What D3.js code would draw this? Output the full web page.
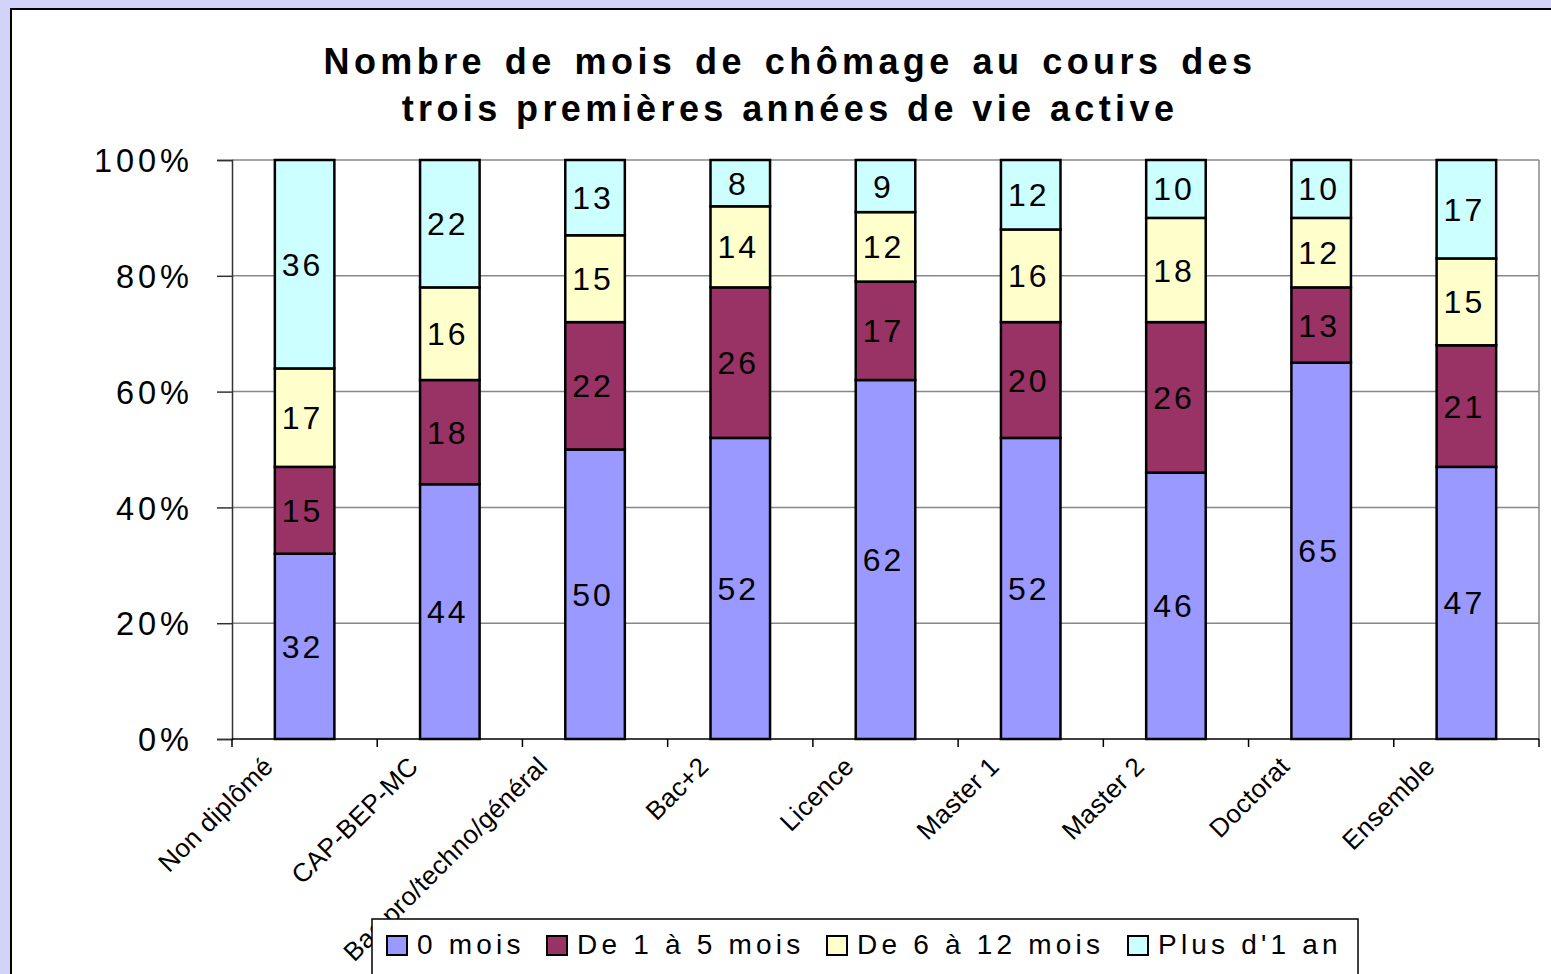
<!DOCTYPE html>
<html>
<head>
<meta charset="utf-8">
<script src="https://cdn.jsdelivr.net/npm/d3@7"></script>
<style>
  html, body { margin: 0; padding: 0; background: #d3d3fa; }
  svg { display: block; font-family: "Liberation Sans", Arial, sans-serif; }
</style>
</head>
<body>
<div id="chart"></div>
<script>
// Categories (niveau de diplôme) and the four stacked series, in percent.
var categories = ["Non diplômé", "CAP-BEP-MC", "Bac pro/techno/général", "Bac+2",
                  "Licence", "Master 1", "Master 2", "Doctorat", "Ensemble"];
var zeroMois    = [32, 44, 50, 52, 62, 52, 46, 65, 47];
var de1a5Mois   = [15, 18, 22, 26, 17, 20, 26, 13, 21];
var de6a12Mois  = [17, 16, 15, 14, 12, 16, 18, 12, 15];
var plusDun     = [36, 22, 13,  8,  9, 12, 10, 10, 17];
var seriesNames = ["0 mois", "De 1 à 5 mois", "De 6 à 12 mois", "Plus d'1 an"];
var yTicks = [0, 20, 40, 60, 80, 100];
var titleLines = ["Nombre de mois de chômage au cours des",
                  "trois premières années de vie active"];

// Configuration parameters.
var width = 1551,
    height = 974,
    plotLeft = 232,
    plotRight = 1539,
    plotTop = 160,
    plotBottom = 739,
    barRatio = 0.41,
    colors = ["#9999ff", "#993366", "#ffffcc", "#ccffff"];

var svg = d3.select("#chart").append("svg")
    .attr("width", width)
    .attr("height", height);

// White chart area with black border (extends beyond the window).
svg.append("rect")
    .attr("x", 11).attr("y", 9)
    .attr("width", width).attr("height", height)
    .attr("fill", "#fff")
    .attr("stroke", "#000")
    .attr("stroke-width", 2);

// Title (first line has wider gaps between words).
svg.append("text")
    .attr("text-anchor", "middle")
    .attr("font-size", 36)
    .attr("font-weight", "bold")
    .attr("letter-spacing", 4.4)
    .selectAll("tspan")
    .data(titleLines)
  .enter().append("tspan")
    .attr("x", 790)
    .attr("y", function(d, i) { return 74 + i * 47; })
    .attr("word-spacing", function(d, i) { return i === 0 ? 4.5 : 0; })
    .text(function(d) { return d; });

// Table rows for the stack layout.
var rows = categories.map(function(c, i) {
  var r = { cat: c };
  r[seriesNames[0]] = zeroMois[i];
  r[seriesNames[1]] = de1a5Mois[i];
  r[seriesNames[2]] = de6a12Mois[i];
  r[seriesNames[3]] = plusDun[i];
  return r;
});
var stacked = d3.stack().keys(seriesNames)(rows);

// Scales.
var x = d3.scaleBand()
      .domain(categories)
      .range([plotLeft, plotRight])
      .padding(0),
    y = d3.scaleLinear()
      .domain([0, 100])
      .range([plotBottom, plotTop]),
    barWidth = x.bandwidth() * barRatio;

// Gridlines and frame.
svg.append("g")
  .selectAll("line")
  .data(yTicks.filter(function(d) { return d > 0; }))
  .enter().append("line")
    .attr("x1", plotLeft).attr("x2", plotRight)
    .attr("y1", function(d) { return y(d); })
    .attr("y2", function(d) { return y(d); })
    .attr("stroke", "#888")
    .attr("stroke-width", 1.5);
svg.append("line")
    .attr("x1", plotRight).attr("x2", plotRight)
    .attr("y1", plotTop).attr("y2", plotBottom)
    .attr("stroke", "#888")
    .attr("stroke-width", 1.5);

// Y axis.
var yAxis = svg.append("g")
    .attr("transform", "translate(" + plotLeft + ",0)")
    .call(d3.axisLeft(y)
      .tickValues(yTicks)
      .tickSize(15)
      .tickPadding(24)
      .tickFormat(function(d) { return d + "%"; }));
yAxis.select(".domain").attr("stroke", "#333").attr("stroke-width", 1.5);
yAxis.selectAll(".tick line").attr("stroke", "#333").attr("stroke-width", 1.5);
yAxis.selectAll(".tick text")
    .attr("font-size", 32.5)
    .attr("letter-spacing", 4)
    .attr("fill", "#000")
    .attr("font-family", "Liberation Sans, Arial, sans-serif")
    .attr("dy", "0.36em");

// Bars.
var layers = svg.append("g")
  .selectAll("g")
  .data(stacked)
  .enter().append("g")
    .attr("fill", function(d, i) { return colors[i]; });

layers.selectAll("rect")
  .data(function(d) { return d; })
  .enter().append("rect")
    .attr("x", function(d) { return x(d.data.cat) + (x.bandwidth() - barWidth) / 2; })
    .attr("y", function(d) { return y(d[1]); })
    .attr("width", barWidth)
    .attr("height", function(d) { return y(d[0]) - y(d[1]); })
    .attr("stroke", "#000")
    .attr("stroke-width", 2.5);

// Value labels inside segments.
layers.selectAll("text")
  .data(function(d) { return d; })
  .enter().append("text")
    .attr("x", function(d) { return x(d.data.cat) + x.bandwidth() / 2 - 2; })
    .attr("y", function(d) { return (y(d[0]) + y(d[1])) / 2; })
    .attr("dy", "0.36em")
    .attr("text-anchor", "middle")
    .attr("font-size", 32)
    .attr("letter-spacing", 3)
    .attr("fill", "#000")
    .text(function(d) { return d[1] - d[0]; });

// X axis line and tick marks at band boundaries.
svg.append("line")
    .attr("x1", plotLeft).attr("x2", plotRight)
    .attr("y1", plotBottom).attr("y2", plotBottom)
    .attr("stroke", "#000")
    .attr("stroke-width", 1.5);
svg.append("g")
  .selectAll("line")
  .data(d3.range(categories.length + 1))
  .enter().append("line")
    .attr("x1", function(i) { return plotLeft + i * x.step(); })
    .attr("x2", function(i) { return plotLeft + i * x.step(); })
    .attr("y1", plotBottom).attr("y2", plotBottom + 8)
    .attr("stroke", "#000")
    .attr("stroke-width", 1.5);

// Rotated category labels (the long one sits a bit further left, as in Excel).
svg.append("g")
  .selectAll("text")
  .data(categories)
  .enter().append("text")
    .attr("transform", function(d, i) {
      var dx = i === 2 ? -46 : -30;
      return "translate(" + (x(d) + x.bandwidth() / 2 + dx) + "," + 768 + ") rotate(-45)";
    })
    .attr("text-anchor", "end")
    .attr("font-size", 26)
    .attr("letter-spacing", 0.3)
    .attr("fill", "#000")
    .text(function(d) { return d; });

// Legend.
var legend = svg.append("g");
legend.append("rect")
    .attr("x", 372).attr("y", 919)
    .attr("width", 986).attr("height", 80)
    .attr("fill", "#fff")
    .attr("stroke", "#000")
    .attr("stroke-width", 1.5);
var legendX = [387, 547, 827, 1128];
var items = legend.selectAll("g.item")
  .data(seriesNames)
  .enter().append("g")
    .attr("class", "item")
    .attr("transform", function(d, i) { return "translate(" + legendX[i] + ",936)"; });
items.append("rect")
    .attr("width", 20).attr("height", 19)
    .attr("fill", function(d, i) { return colors[i]; })
    .attr("stroke", "#000")
    .attr("stroke-width", 2);
items.append("text")
    .attr("x", 30)
    .attr("y", 18)
    .attr("font-size", 28)
    .attr("letter-spacing", 4.2)
    .attr("fill", "#000")
    .text(function(d) { return d; });
</script>
</body>
</html>
